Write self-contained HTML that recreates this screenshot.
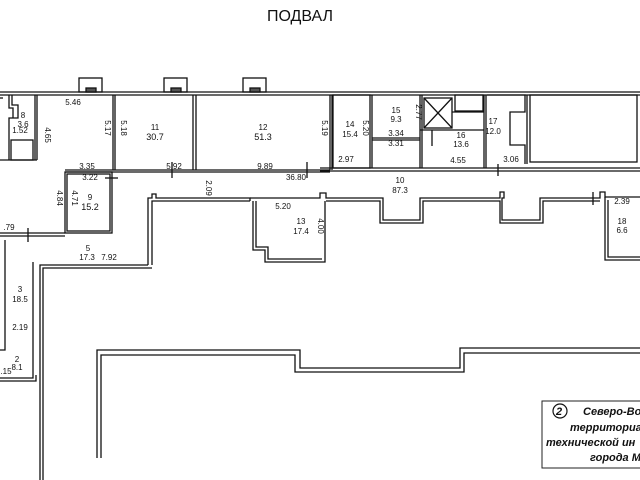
<!DOCTYPE html>
<html><head><meta charset="utf-8"><style>
html,body{margin:0;padding:0;background:#fff;}
svg{display:block}
text{font-family:"Liberation Sans",sans-serif;fill:#111}
</style></head><body>
<svg width="640" height="480" viewBox="0 0 640 480" xmlns="http://www.w3.org/2000/svg">
<rect width="640" height="480" fill="#fff"/>
<text x="300" y="21" font-size="16" text-anchor="middle">ПОДВАЛ</text>
<g fill="none" stroke="#111" stroke-width="1.3">
<line x1="0" y1="92" x2="640" y2="92"/>
<line x1="0" y1="95" x2="640" y2="95"/>
<rect x="79" y="78" width="23" height="14"/>
<rect x="164" y="78" width="23" height="14"/>
<rect x="243" y="78" width="23" height="14"/>
<rect x="86" y="88" width="10" height="4" fill="#555"/>
<rect x="171" y="88" width="10" height="4" fill="#555"/>
<rect x="250" y="88" width="10" height="4" fill="#555"/>
<path d="M9 95 V108 H13 V118 H9 V130 M12 95 V105 H18 V118 H12 M9 130 V160"/>
<rect x="11" y="140" width="22" height="20"/>
<line x1="35" y1="95" x2="35" y2="160"/>
<line x1="37" y1="95" x2="37" y2="160"/>
<line x1="0" y1="160" x2="37" y2="160"/>
<line x1="0" y1="98" x2="3" y2="98"/>
<path d="M113 95 V170 M115 95 V170 M193 95 V170 M196 95 V170 M330 95 V170 M332 95 V170"/>
<path d="M65 170 H330 M65 172 H330"/>
<rect x="65" y="172" width="47" height="61"/>
<rect x="67" y="174" width="43" height="57"/>
<path d="M0 233 H65 M0 236 H65"/>
<line x1="28" y1="228" x2="28" y2="242"/>
<line x1="105" y1="178" x2="118" y2="178"/>
<line x1="172" y1="162" x2="172" y2="178"/>
<line x1="307" y1="162" x2="307" y2="178"/>
<rect x="333" y="95" width="37" height="73"/>
<line x1="372" y1="95" x2="372" y2="168"/>
<path d="M372 138 H420 M372 140 H420"/>
<path d="M420 95 V168 M422 95 V168"/>
<rect x="424" y="98" width="28" height="30"/>
<path d="M424 98 L452 128 M452 98 L424 128"/>
<rect x="455" y="95" width="28" height="16"/>
<path d="M452 112 H484 M420 130 H484"/>
<path d="M484 95 V168 M486 95 V168"/>
<path d="M487 95 H525 V112 H510 V145 H525 V164 M527 95 V164"/>
<rect x="530" y="95" width="107" height="67"/>
<path d="M320 168 H640 M320 171 H640"/>
<line x1="432" y1="130" x2="432" y2="146"/>
<line x1="498" y1="164" x2="498" y2="176"/>
<path d="M148 265 V198 H152 V194 H156 V198 H250 V201 M152 265 V201 H250"/>
<path d="M250 198 H320 V193 H326 V198 H383 V220 H420 V198 H500 V192 H504 V198 H502 V220 H540 V198 H600 V192 H605 V197 H640"/>
<path d="M326 201 H380 V223 H423 V201 H500 V223 H543 V201 H600"/>
<path d="M253 201 V250 H265 V262 H325 V201 M256 201 V247 H268 V259 H322"/>
<path d="M605 197 V260 H640 M608 200 V257 H640"/>
<line x1="593" y1="192" x2="593" y2="205"/>
<path d="M148 265 H40 V480 M152 268 H43 V480"/>
<path d="M33 262 V378 H0 M5 240 V350 H0"/>
<path d="M36 375 V381 H0"/>
<path d="M97 458 V350 H300 V368 H460 V348 H640"/>
<path d="M101 458 V355 H295 V372 H464 V353 H640"/>
</g>
<g font-size="8" text-anchor="middle">
<text x="23" y="118">8</text><text x="23" y="127">3.6</text><text x="20" y="133">1.52</text>
<text x="73" y="105">5.46</text>
<text x="45" y="135" transform="rotate(90 45 135)">4.65</text>
<text x="105" y="128" transform="rotate(90 105 128)">5.17</text>
<text x="121" y="128" transform="rotate(90 121 128)">5.18</text>
<text x="155" y="130">11</text><text x="155" y="140" font-size="9">30.7</text>
<text x="263" y="130">12</text><text x="263" y="140" font-size="9">51.3</text>
<text x="322" y="128" transform="rotate(90 322 128)">5.19</text>
<text x="87" y="169">3.35</text><text x="174" y="169">5.92</text><text x="265" y="169">9.89</text>
<text x="90" y="180">3.22</text>
<text x="57" y="198" transform="rotate(90 57 198)">4.84</text>
<text x="72" y="198" transform="rotate(90 72 198)">4.71</text>
<text x="90" y="200">9</text><text x="90" y="210" font-size="9">15.2</text>
<text x="206" y="188" transform="rotate(90 206 188)">2.09</text>
<text x="296" y="180">36.80</text>
<text x="283" y="209">5.20</text>
<text x="301" y="224">13</text><text x="301" y="234">17.4</text>
<text x="318" y="226" transform="rotate(90 318 226)">4.00</text>
<text x="9" y="230">.79</text>
<text x="88" y="251">5</text><text x="87" y="260">17.3</text><text x="109" y="260">7.92</text>
<text x="20" y="292">3</text><text x="20" y="302">18.5</text>
<text x="20" y="330">2.19</text>
<text x="17" y="362">2</text><text x="17" y="370">8.1</text><text x="6" y="374">.15</text>
<text x="350" y="127">14</text><text x="350" y="137">15.4</text>
<text x="363" y="128" transform="rotate(90 363 128)">5.20</text>
<text x="346" y="162">2.97</text>
<text x="396" y="113">15</text><text x="396" y="122">9.3</text>
<text x="416" y="112" transform="rotate(90 416 112)">2.77</text>
<text x="396" y="136">3.34</text><text x="396" y="146">3.31</text>
<text x="461" y="138">16</text><text x="461" y="147">13.6</text>
<text x="458" y="163">4.55</text>
<text x="493" y="124">17</text><text x="493" y="134">12.0</text>
<text x="511" y="162">3.06</text>
<text x="400" y="183">10</text><text x="400" y="193">87.3</text>
<text x="622" y="204">2.39</text>
<text x="622" y="224">18</text><text x="622" y="233">6.6</text>
</g>
<rect x="542" y="401" width="100" height="67" fill="none" stroke="#222" stroke-width="1"/>
<circle cx="560" cy="411" r="7" fill="none" stroke="#111" stroke-width="1.2"/>
<g font-size="11" font-style="italic" font-weight="bold" text-anchor="start">
<text x="556" y="415" font-size="11">2</text>
<text x="583" y="415">Северо-Вос</text>
<text x="570" y="431">территориал</text>
<text x="546" y="446">технической ин</text>
<text x="590" y="461">города М</text>
</g>
</svg>
</body></html>
